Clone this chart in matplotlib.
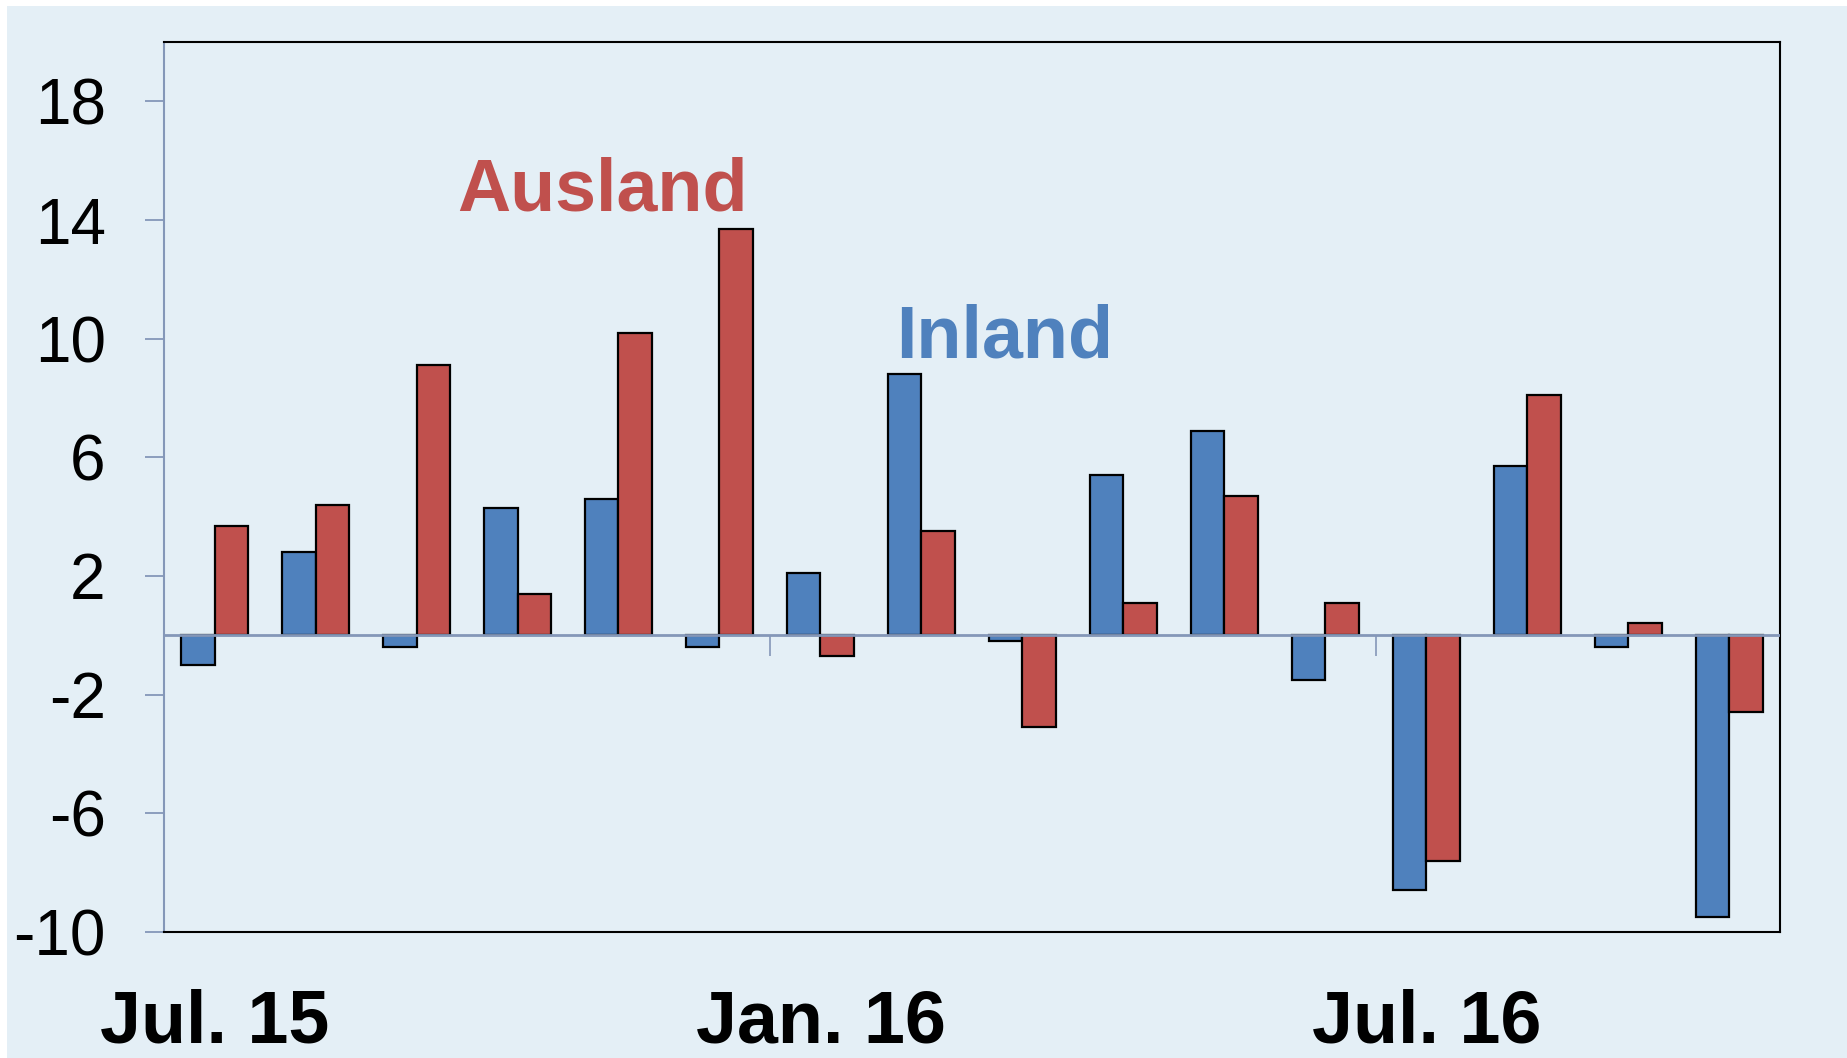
import numpy as np
import matplotlib
matplotlib.use("Agg")
import matplotlib.pyplot as plt
from matplotlib.patches import Rectangle

plt.rcParams["font.family"] = ["Liberation Sans", "DejaVu Sans"]

# monthly changes, Jul. 15 .. Oct. 16
months = ["Jul. 15", "Aug. 15", "Sep. 15", "Okt. 15", "Nov. 15", "Dez. 15",
          "Jan. 16", "Feb. 16", "Mrz. 16", "Apr. 16", "Mai. 16", "Jun. 16",
          "Jul. 16", "Aug. 16", "Sep. 16", "Okt. 16"]
inland = [-1.0, 2.8, -0.4, 4.3, 4.6, -0.4, 2.1, 8.8,
          -0.2, 5.4, 6.9, -1.5, -8.6, 5.7, -0.4, -9.5]
ausland = [3.7, 4.4, 9.1, 1.4, 10.2, 13.7, -0.7, 3.5,
           -3.1, 1.1, 4.7, 1.1, -7.6, 8.1, 0.4, -2.6]
yticks = [-10, -6, -2, 2, 6, 10, 14, 18]
xlabel_idx = [0, 6, 12]

bg = "#E4EFF6"
blue = "#4F81BD"
red = "#C0504D"
axis_col = "#8497B8"

fig = plt.figure(figsize=(18.47, 10.58), dpi=100, facecolor="white")
fig.patches.append(Rectangle((0.004, 0), 0.996, 0.994, transform=fig.transFigure,
                             facecolor=bg, edgecolor="none", zorder=-5))

ax = fig.add_axes([0.0888, 0.1191, 0.8749, 0.8412])
ax.set_facecolor(bg)

x = np.arange(len(months))
w = 0.33
ax.bar(x - w / 2, inland, w, color=blue, edgecolor="black", linewidth=1.6, zorder=2)
ax.bar(x + w / 2, ausland, w, color=red, edgecolor="black", linewidth=1.6, zorder=2)

ax.axhline(0, color=axis_col, linewidth=2, zorder=3)
# half-year separators on the zero line
ax.vlines([5.5, 11.5], -0.7, 0, color=axis_col, linewidth=1.2, zorder=3)

ax.set_xlim(-0.5, len(months) - 0.5)
ax.set_ylim(-10, 20)

ax.set_yticks(yticks)
ax.set_yticklabels([str(v) for v in yticks], fontsize=46)
ax.tick_params(axis="y", length=14, width=1.3, color=axis_col, pad=28)

ax.set_xticks(xlabel_idx)
ax.set_xticklabels([months[i] for i in xlabel_idx], fontsize=53, fontweight="bold")
ax.tick_params(axis="x", length=0, pad=41)

for s in ["top", "right", "bottom"]:
    ax.spines[s].set_color("black")
    ax.spines[s].set_linewidth(1.5)
ax.spines["left"].set_color(axis_col)
ax.spines["left"].set_linewidth(1.5)

ax.text(3.84, 14.33, "Ausland", color=red, fontsize=53, fontweight="bold",
        ha="center", va="baseline")
ax.text(7.82, 9.35, "Inland", color=blue, fontsize=53, fontweight="bold",
        ha="center", va="baseline")

fig.savefig("out.png", dpi=100, facecolor="white")
